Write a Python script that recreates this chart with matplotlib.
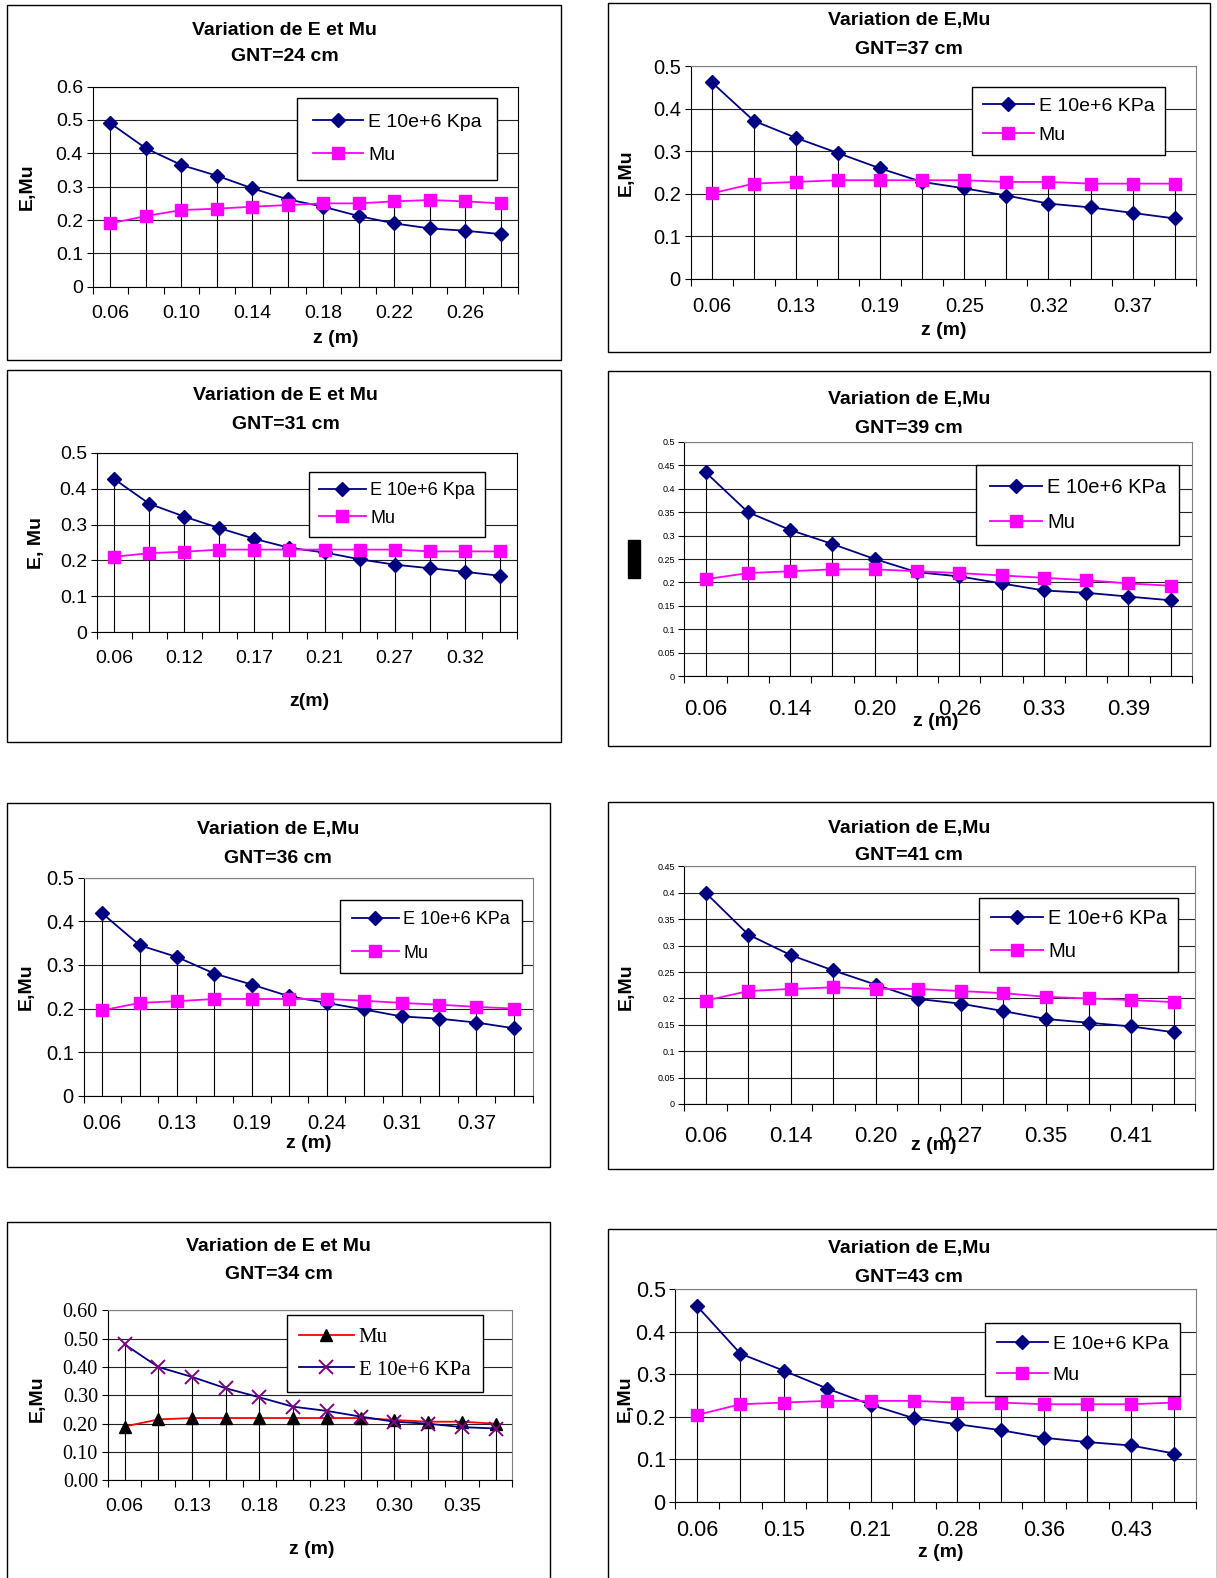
import numpy as np
import matplotlib.pyplot as plt
from matplotlib.patches import Rectangle

plt.rcParams['font.family'] = ['Liberation Sans', 'DejaVu Sans']

# GNT = 24 cm
z_24 = ['0.06', '0.08', '0.10', '0.12', '0.14', '0.16', '0.18', '0.20', '0.22', '0.24', '0.26', '0.28']
e_24 = [0.490, 0.415, 0.365, 0.333, 0.295, 0.262, 0.240, 0.212, 0.190, 0.175, 0.168, 0.158]
mu_24 = [0.190, 0.212, 0.230, 0.234, 0.240, 0.245, 0.250, 0.250, 0.256, 0.260, 0.256, 0.250]

# GNT = 37 cm
z_37 = ['0.06', '0.10', '0.13', '0.16', '0.19', '0.22', '0.25', '0.29', '0.32', '0.35', '0.37', '0.40']
e_37 = [0.463, 0.372, 0.332, 0.296, 0.260, 0.228, 0.213, 0.196, 0.177, 0.168, 0.155, 0.142]
mu_37 = [0.201, 0.224, 0.228, 0.232, 0.232, 0.232, 0.232, 0.228, 0.228, 0.224, 0.224, 0.224]

# GNT = 31 cm
z_31 = ['0.06', '0.09', '0.12', '0.14', '0.17', '0.19', '0.21', '0.24', '0.27', '0.29', '0.32', '0.34']
e_31 = [0.427, 0.358, 0.322, 0.290, 0.260, 0.235, 0.222, 0.203, 0.188, 0.178, 0.168, 0.157]
mu_31 = [0.210, 0.220, 0.224, 0.230, 0.230, 0.230, 0.230, 0.230, 0.230, 0.225, 0.225, 0.225]

# GNT = 39 cm
z_39 = ['0.06', '0.10', '0.14', '0.17', '0.20', '0.23', '0.26', '0.30', '0.33', '0.36', '0.39', '0.43']
e_39 = [0.435, 0.350, 0.312, 0.282, 0.250, 0.222, 0.213, 0.198, 0.183, 0.178, 0.170, 0.162]
mu_39 = [0.207, 0.220, 0.224, 0.228, 0.228, 0.224, 0.220, 0.215, 0.210, 0.205, 0.198, 0.193]

# GNT = 36 cm
z_36 = ['0.06', '0.10', '0.13', '0.16', '0.19', '0.21', '0.24', '0.27', '0.31', '0.34', '0.37', '0.40']
e_36 = [0.418, 0.345, 0.318, 0.280, 0.255, 0.228, 0.213, 0.198, 0.182, 0.177, 0.168, 0.155]
mu_36 = [0.196, 0.213, 0.217, 0.222, 0.222, 0.222, 0.222, 0.218, 0.213, 0.209, 0.204, 0.200]

# GNT = 41 cm
z_41 = ['0.06', '0.10', '0.14', '0.17', '0.20', '0.24', '0.27', '0.31', '0.35', '0.38', '0.41', '0.45']
e_41 = [0.400, 0.321, 0.282, 0.253, 0.226, 0.199, 0.190, 0.176, 0.161, 0.154, 0.147, 0.136]
mu_41 = [0.196, 0.214, 0.218, 0.221, 0.218, 0.218, 0.214, 0.210, 0.203, 0.200, 0.197, 0.193]

# GNT = 34 cm
z_34 = ['0.06', '0.09', '0.13', '0.16', '0.18', '0.21', '0.23', '0.27', '0.30', '0.32', '0.35', '0.38']
e_34 = [0.480, 0.400, 0.365, 0.325, 0.293, 0.260, 0.245, 0.225, 0.207, 0.200, 0.188, 0.183]
mu_34 = [0.190, 0.215, 0.220, 0.220, 0.220, 0.220, 0.220, 0.220, 0.213, 0.207, 0.207, 0.200]

# GNT = 43 cm
z_43 = ['0.06', '0.10', '0.15', '0.18', '0.21', '0.25', '0.28', '0.32', '0.36', '0.40', '0.43', '0.47']
e_43 = [0.460, 0.348, 0.308, 0.266, 0.228, 0.196, 0.182, 0.168, 0.150, 0.140, 0.132, 0.113]
mu_43 = [0.204, 0.229, 0.233, 0.237, 0.237, 0.237, 0.233, 0.233, 0.229, 0.229, 0.229, 0.233]

W, H = 1209.0, 1568.0
fig = plt.figure(figsize=(12.17, 15.78), dpi=100)


def fx(x):
    return x / W


def fy(y):
    return 1 - y / H


def panel(p, z, e, mu):
    bx0, by0, bx1, by1 = p['box']
    fig.add_artist(Rectangle((fx(bx0), fy(by1)), fx(bx1) - fx(bx0), fy(by0) - fy(by1),
                             transform=fig.transFigure, fill=False, lw=1.0, ec='black'))
    ax0, ay0, ax1, ay1 = p['area']
    ax = fig.add_axes([fx(ax0), fy(ay1), fx(ax1) - fx(ax0), fy(ay0) - fy(ay1)])
    n = len(z)
    x = np.arange(n)

    ax.set_ylim(0, p['ymax'])
    yt = np.arange(0, p['ymax'] + 1e-9, p['ystep'])
    ax.set_yticks(yt)
    ax.set_yticklabels([p['yfmt'](v) for v in yt], fontsize=p['yfs'], family=p['yfam'])
    ax.yaxis.grid(True, color='#222222', lw=0.8)
    ax.set_axisbelow(True)

    ax.set_xlim(-0.5, n - 0.5)
    ax.set_xticks(np.arange(n + 1) - 0.5)
    ax.set_xticklabels([])
    ax.set_xticks(x[::2], minor=True)
    ax.set_xticklabels(z[::2], minor=True, fontsize=p['xfs'])
    ax.tick_params(axis='x', which='major', length=5, direction='out', width=0.8)
    ax.tick_params(axis='x', which='minor', length=0, pad=p['xpad'])
    ax.tick_params(axis='y', length=4, width=0.8, pad=3)

    for s in ['top', 'right']:
        ax.spines[s].set_color(p['frame'])
    for s in ['left', 'bottom']:
        ax.spines[s].set_color('black')

    top = np.maximum(e, mu)
    ax.vlines(x, 0, top, color='black', lw=0.8, zorder=2)

    if p['style'] == 'serif':
        h_mu, = ax.plot(x, mu, color='red', lw=1.3, marker='^', ms=8, mfc='black', mec='black', zorder=3)
        h_e, = ax.plot(x, e, color='#000080', lw=1.3, marker='x', ms=10, mew=1.4, mec='#800080', zorder=4)
        handles, labels = [h_mu, h_e], ['Mu', 'E 10e+6 KPa']
        lfam = ['Liberation Serif']
    else:
        h_e, = ax.plot(x, e, color='#000080', lw=1.3, marker='D', ms=7, mfc='#000080', mec='#000080', zorder=3)
        h_mu, = ax.plot(x, mu, color='#FF00FF', lw=1.3, marker='s', ms=8.5, mfc='#FF00FF', mec='#FF00FF', zorder=4)
        handles, labels = [h_e, h_mu], [p['elabel'], 'Mu']
        lfam = ['Liberation Sans']

    lx, ly = p['leg']
    leg = ax.legend(handles, labels, loc='upper left', bbox_to_anchor=(fx(lx), fy(ly)),
                    bbox_transform=fig.transFigure, borderaxespad=0, frameon=True, fancybox=False,
                    edgecolor='black', framealpha=1, handlelength=2.6, handletextpad=0.25,
                    labelspacing=p['lsp'], borderpad=p['lbp'], prop={'family': lfam, 'size': p['lfs']})
    leg.get_frame().set_linewidth(1.0)
    leg.set_zorder(10)

    tx, t1, t2 = p['title']
    fig.text(fx(tx), fy(t1), p['ttext'], ha='center', va='center', fontsize=14, fontweight='bold')
    fig.text(fx(tx), fy(t2), 'GNT=%d cm' % p['gnt'], ha='center', va='center', fontsize=14, fontweight='bold')

    if p['ylab'] is not None:
        yx, yy, ytext = p['ylab']
        fig.text(fx(yx), fy(yy), ytext, ha='center', va='center', rotation=90, fontsize=14, fontweight='bold')
    xx, xy, xtext = p['xlab']
    fig.text(fx(xx), fy(xy), xtext, ha='center', va='center', fontsize=14, fontweight='bold')
    return ax


def gen(v):
    return '0' if v == 0 else ('%.2f' % v).rstrip('0')


def fix2(v):
    return '%.2f' % v


base = dict(yfam=['Liberation Sans'], frame='#808080', style='sans', elabel='E 10e+6 KPa',
            xpad=13, lfs=14, lsp=0.8, lbp=0.65, yfmt=gen, ystep=0.1, ymax=0.5, yfs=14, xfs=14)

layout = [
    dict(base, box=(7, 5, 557, 358), area=(92, 86, 515, 285), ymax=0.6, gnt=24, lbp=0.8,
         ttext='Variation de E et Mu', title=(283, 30, 56), ylab=(27, 186, 'E,Mu'),
         xlab=(334, 336, 'z (m)'), leg=(295, 97), elabel='E 10e+6 Kpa', frame='black'),
    dict(base, box=(604, 3, 1202, 350), area=(686, 66, 1188, 277), gnt=37, yfs=14.5, xfs=14.5,
         lsp=0.6, lbp=0.55, ttext='Variation de E,Mu', title=(903, 20, 49), ylab=(622, 172, 'E,Mu'),
         xlab=(938, 328, 'z (m)'), leg=(966, 86)),
    dict(base, box=(7, 368, 557, 737), area=(96, 450, 514, 628), gnt=31, lfs=13, lsp=0.6, lbp=0.55,
         ttext='Variation de E et Mu', title=(284, 393, 422), ylab=(36, 540, 'E, Mu'),
         xlab=(307, 697, 'z(m)'), leg=(307, 469), elabel='E 10e+6 Kpa', frame='black'),
    dict(base, box=(604, 369, 1202, 741), area=(680, 439, 1184, 672), gnt=39, ystep=0.05,
         yfs=6.5, xfs=16, lfs=14.5, ttext='Variation de E,Mu', title=(903, 397, 426), ylab=None,
         xlab=(930, 717, 'z (m)'), leg=(970, 462), xpad=16),
    dict(base, box=(7, 798, 546, 1160), area=(83, 872, 529, 1089), gnt=36, yfs=14.5, xfs=14.5,
         lfs=13, lsp=0.9, ttext='Variation de E,Mu', title=(276, 824, 853), ylab=(26, 980, 'E,Mu'),
         xlab=(307, 1136, 'z (m)'), leg=(338, 894)),
    dict(base, box=(604, 797, 1205, 1162), area=(680, 861, 1187, 1097), gnt=41, ymax=0.45,
         ystep=0.05, yfs=6.5, xfs=16, lfs=14.5, lsp=0.7, lbp=0.55, ttext='Variation de E,Mu',
         title=(903, 823, 850), ylab=(622, 980, 'E,Mu'), xlab=(928, 1138, 'z (m)'),
         leg=(973, 892), xpad=16),
    dict(base, box=(7, 1214, 546, 1575), area=(107, 1302, 509, 1471), gnt=34, ymax=0.6,
         yfmt=fix2, yfam=['Liberation Serif'], yfs=14.5, xfs=14, lfs=15, lsp=0.6, lbp=0.6,
         style='serif', ttext='Variation de E et Mu', title=(277, 1239, 1266),
         ylab=(37, 1390, 'E,Mu'), xlab=(310, 1540, 'z (m)'), leg=(285, 1307)),
    dict(base, box=(604, 1221, 1209, 1575), area=(671, 1281, 1188, 1492), gnt=43, yfs=15.5, xfs=15.5,
         lfs=14, lsp=0.7, lbp=0.6, ttext='Variation de E,Mu', title=(903, 1241, 1269),
         ylab=(621, 1390, 'E,Mu'), xlab=(935, 1543, 'z (m)'), leg=(979, 1315)),
]

series = [(z_24, e_24, mu_24), (z_37, e_37, mu_37), (z_31, e_31, mu_31), (z_39, e_39, mu_39),
          (z_36, e_36, mu_36), (z_41, e_41, mu_41), (z_34, e_34, mu_34), (z_43, e_43, mu_43)]

for p, (z, e, mu) in zip(layout, series):
    panel(p, z, e, mu)

# black block in place of the y label of the GNT=39 cm chart
fig.add_artist(Rectangle((fx(624), fy(574)), fx(636) - fx(624), fy(537) - fy(574),
                         transform=fig.transFigure, color='black'))

fig.savefig('out.png', dpi=100)
